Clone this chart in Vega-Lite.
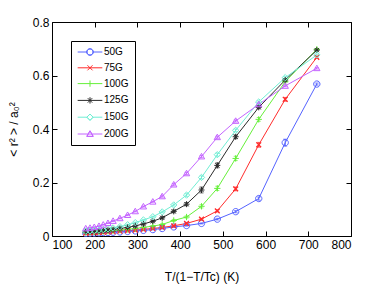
{
  "$schema": "https://vega.github.io/schema/vega-lite/v6.json",
  "width": 299,
  "height": 214,
  "autosize": "none",
  "padding": {"left": 52, "top": 22, "right": 37, "bottom": 56},
  "background": "white",
  "config": {
    "font": "Liberation Sans",
    "view": {"stroke": "black", "strokeWidth": 1},
    "axis": {
      "grid": false,
      "domain": false,
      "tickColor": "black",
      "tickSize": -5,
      "labelFontSize": 12,
      "labelColor": "black",
      "labelFont": "Liberation Sans",
      "titleFont": "Liberation Sans",
      "titleFontSize": 12,
      "titleFontWeight": "normal",
      "titleColor": "black"
    }
  },
  "data": {"values": [
    {"s":"50G","x":179,"y":0.010,"e":0.001},{"s":"50G","x":189,"y":0.011,"e":0.001},{"s":"50G","x":199,"y":0.011,"e":0.001},{"s":"50G","x":210,"y":0.012,"e":0.001},{"s":"50G","x":220,"y":0.013,"e":0.001},{"s":"50G","x":231,"y":0.013,"e":0.001},{"s":"50G","x":243,"y":0.014,"e":0.001},{"s":"50G","x":259,"y":0.015,"e":0.001},{"s":"50G","x":277,"y":0.017,"e":0.001},{"s":"50G","x":295,"y":0.019,"e":0.001},{"s":"50G","x":314,"y":0.021,"e":0.001},{"s":"50G","x":336,"y":0.024,"e":0.001},{"s":"50G","x":358,"y":0.028,"e":0.002},{"s":"50G","x":385,"y":0.034,"e":0.002},{"s":"50G","x":415,"y":0.039,"e":0.002},{"s":"50G","x":450,"y":0.047,"e":0.002},{"s":"50G","x":487,"y":0.063,"e":0.003},{"s":"50G","x":530,"y":0.091,"e":0.004},{"s":"50G","x":584,"y":0.140,"e":0.006},{"s":"50G","x":646,"y":0.349,"e":0.013},{"s":"50G","x":720,"y":0.568,"e":0.004},
    {"s":"75G","x":179,"y":0.011,"e":0.001},{"s":"75G","x":189,"y":0.012,"e":0.001},{"s":"75G","x":199,"y":0.013,"e":0.001},{"s":"75G","x":210,"y":0.013,"e":0.001},{"s":"75G","x":220,"y":0.014,"e":0.001},{"s":"75G","x":231,"y":0.015,"e":0.001},{"s":"75G","x":243,"y":0.016,"e":0.001},{"s":"75G","x":259,"y":0.018,"e":0.001},{"s":"75G","x":277,"y":0.020,"e":0.001},{"s":"75G","x":295,"y":0.022,"e":0.001},{"s":"75G","x":314,"y":0.025,"e":0.001},{"s":"75G","x":336,"y":0.028,"e":0.001},{"s":"75G","x":358,"y":0.032,"e":0.002},{"s":"75G","x":385,"y":0.038,"e":0.002},{"s":"75G","x":415,"y":0.047,"e":0.003},{"s":"75G","x":450,"y":0.063,"e":0.003},{"s":"75G","x":487,"y":0.094,"e":0.004},{"s":"75G","x":530,"y":0.176,"e":0.007},{"s":"75G","x":584,"y":0.341,"e":0.009},{"s":"75G","x":646,"y":0.511,"e":0.007},{"s":"75G","x":720,"y":0.668,"e":0.003},
    {"s":"100G","x":179,"y":0.013,"e":0.001},{"s":"100G","x":189,"y":0.014,"e":0.001},{"s":"100G","x":199,"y":0.015,"e":0.001},{"s":"100G","x":210,"y":0.016,"e":0.001},{"s":"100G","x":220,"y":0.017,"e":0.001},{"s":"100G","x":231,"y":0.018,"e":0.001},{"s":"100G","x":243,"y":0.020,"e":0.001},{"s":"100G","x":259,"y":0.022,"e":0.001},{"s":"100G","x":277,"y":0.025,"e":0.002},{"s":"100G","x":295,"y":0.028,"e":0.002},{"s":"100G","x":314,"y":0.032,"e":0.002},{"s":"100G","x":336,"y":0.037,"e":0.002},{"s":"100G","x":358,"y":0.043,"e":0.003},{"s":"100G","x":385,"y":0.058,"e":0.004},{"s":"100G","x":415,"y":0.071,"e":0.004},{"s":"100G","x":450,"y":0.111,"e":0.006},{"s":"100G","x":487,"y":0.178,"e":0.008},{"s":"100G","x":530,"y":0.290,"e":0.008},{"s":"100G","x":584,"y":0.436,"e":0.007},{"s":"100G","x":646,"y":0.577,"e":0.004},{"s":"100G","x":720,"y":0.698,"e":0.003},
    {"s":"125G","x":179,"y":0.015,"e":0.001},{"s":"125G","x":189,"y":0.016,"e":0.001},{"s":"125G","x":199,"y":0.017,"e":0.001},{"s":"125G","x":210,"y":0.018,"e":0.001},{"s":"125G","x":220,"y":0.020,"e":0.001},{"s":"125G","x":231,"y":0.022,"e":0.001},{"s":"125G","x":243,"y":0.024,"e":0.001},{"s":"125G","x":259,"y":0.028,"e":0.002},{"s":"125G","x":277,"y":0.032,"e":0.002},{"s":"125G","x":295,"y":0.038,"e":0.002},{"s":"125G","x":314,"y":0.045,"e":0.003},{"s":"125G","x":336,"y":0.055,"e":0.003},{"s":"125G","x":358,"y":0.068,"e":0.004},{"s":"125G","x":385,"y":0.092,"e":0.005},{"s":"125G","x":415,"y":0.119,"e":0.006},{"s":"125G","x":450,"y":0.172,"e":0.011},{"s":"125G","x":487,"y":0.264,"e":0.009},{"s":"125G","x":530,"y":0.371,"e":0.007},{"s":"125G","x":584,"y":0.481,"e":0.005},{"s":"125G","x":646,"y":0.583,"e":0.004},{"s":"125G","x":720,"y":0.695,"e":0.003},
    {"s":"150G","x":179,"y":0.018,"e":0.001},{"s":"150G","x":189,"y":0.019,"e":0.001},{"s":"150G","x":199,"y":0.020,"e":0.001},{"s":"150G","x":210,"y":0.022,"e":0.001},{"s":"150G","x":220,"y":0.024,"e":0.001},{"s":"150G","x":231,"y":0.027,"e":0.001},{"s":"150G","x":243,"y":0.030,"e":0.001},{"s":"150G","x":259,"y":0.035,"e":0.002},{"s":"150G","x":277,"y":0.042,"e":0.002},{"s":"150G","x":295,"y":0.050,"e":0.002},{"s":"150G","x":314,"y":0.060,"e":0.002},{"s":"150G","x":336,"y":0.072,"e":0.002},{"s":"150G","x":358,"y":0.090,"e":0.003},{"s":"150G","x":385,"y":0.116,"e":0.004},{"s":"150G","x":415,"y":0.153,"e":0.005},{"s":"150G","x":450,"y":0.219,"e":0.006},{"s":"150G","x":487,"y":0.304,"e":0.006},{"s":"150G","x":530,"y":0.395,"e":0.005},{"s":"150G","x":584,"y":0.501,"e":0.004},{"s":"150G","x":646,"y":0.592,"e":0.004},{"s":"150G","x":720,"y":0.677,"e":0.003},
    {"s":"200G","x":179,"y":0.028,"e":0.001},{"s":"200G","x":189,"y":0.030,"e":0.001},{"s":"200G","x":199,"y":0.033,"e":0.001},{"s":"200G","x":210,"y":0.037,"e":0.001},{"s":"200G","x":220,"y":0.042,"e":0.001},{"s":"200G","x":231,"y":0.048,"e":0.001},{"s":"200G","x":243,"y":0.056,"e":0.002},{"s":"200G","x":259,"y":0.066,"e":0.002},{"s":"200G","x":277,"y":0.078,"e":0.002},{"s":"200G","x":295,"y":0.092,"e":0.002},{"s":"200G","x":314,"y":0.110,"e":0.002},{"s":"200G","x":336,"y":0.128,"e":0.002},{"s":"200G","x":358,"y":0.148,"e":0.003},{"s":"200G","x":385,"y":0.192,"e":0.004},{"s":"200G","x":415,"y":0.234,"e":0.004},{"s":"200G","x":450,"y":0.297,"e":0.004},{"s":"200G","x":487,"y":0.369,"e":0.004},{"s":"200G","x":530,"y":0.430,"e":0.004},{"s":"200G","x":584,"y":0.492,"e":0.004},{"s":"200G","x":646,"y":0.561,"e":0.003},{"s":"200G","x":720,"y":0.627,"e":0.003}
  ]},
  "encoding": {
    "x": {"field": "x", "type": "quantitative", "scale": {"domain": [100, 800], "nice": false, "zero": false}, "axis": null},
    "y": {"field": "y", "type": "quantitative", "scale": {"domain": [0, 0.8], "nice": false}, "axis": null},
    "color": {"field": "s", "type": "nominal", "scale": {"domain": ["50G","75G","100G","125G","150G","200G"], "range": ["#5563ff","#ff2c2c","#66f03a","#2a2a2a","#70eed4","#c464ff"]}, "legend": null}
  },
  "resolve": {"axis": {"x": "independent", "y": "independent"}},
  "layer": [
    {
      "mark": {"type": "point", "filled": false, "opacity": 0, "size": 40, "strokeWidth": 1},
      "encoding": {
        "x": {"field": "x", "type": "quantitative", "scale": {"domain": [100, 800], "nice": false, "zero": false},
              "axis": {"orient": "top", "values": [100,200,300,400,500,600,700,800], "labels": false, "title": null}},
        "y": {"field": "y", "type": "quantitative", "scale": {"domain": [0, 0.8], "nice": false},
              "axis": {"orient": "right", "values": [0,0.2,0.4,0.6,0.8], "labels": false, "title": null}},
        "color": {"field": "s", "type": "nominal",
                  "legend": {"title": null, "orient": "none", "legendX": 19, "legendY": 19, "strokeColor": "black", "fillColor": "white", "padding": 6, "symbolOffset": 8, "labelOffset": 9, "labelFontSize": 10, "labelFont": "Liberation Sans", "labelColor": "black", "rowPadding": 4.8, "symbolSize": 40, "symbolStrokeWidth": 1, "symbolOpacity": 1}},
        "shape": {"field": "s", "type": "nominal",
                  "scale": {"domain": ["50G","75G","100G","125G","150G","200G"],
                            "range": ["M-3.9,0H-1M1,0H3.9M1,0A1,1,0,1,1,-1,0A1,1,0,1,1,1,0A1,1,0,1,0,-1,0A1,1,0,1,0,1,0",
                                      "M-3.9,0H3.9M-0.8,-0.8L0.8,0.8M-0.8,0.8L0.8,-0.8",
                                      "M-3.9,0H3.9M0,-1V1",
                                      "M-3.9,0H3.9M0,-1V1M-0.7,-0.7L0.7,0.7M-0.7,0.7L0.7,-0.7",
                                      "M-3.9,0H-1M1,0H3.9M0,-1L1,0L0,1L-1,0ZM0,-1L-1,0L0,1L1,0Z",
                                      "M-3.9,0H3.9M0,-1L1,0.75L-1,0.75ZM0,-1L-1,0.75L1,0.75Z"]},
                  "legend": {"title": null, "orient": "none", "legendX": 19, "legendY": 19, "strokeColor": "black", "fillColor": "white", "padding": 6, "symbolOffset": 8, "labelOffset": 9, "labelFontSize": 10, "labelFont": "Liberation Sans", "labelColor": "black", "rowPadding": 4.8, "symbolSize": 40, "symbolStrokeWidth": 1, "symbolOpacity": 1}}
      }
    },
    {
      "mark": {"type": "line", "strokeWidth": 1},
      "encoding": {
        "x": {"field": "x", "type": "quantitative", "scale": {"domain": [100, 800], "nice": false, "zero": false},
              "axis": {"orient": "bottom", "values": [100,200,300,400,500,600,700,800], "labelPadding": 8, "title": "T/(1−T/Tc) (K)", "titlePadding": 21}},
        "y": {"field": "y", "type": "quantitative", "scale": {"domain": [0, 0.8], "nice": false},
              "axis": {"orient": "left", "values": [0,0.2,0.4,0.6,0.8], "format": "~g", "labelPadding": 8, "title": "< r² > / a₀²", "titlePadding": 12}}
      }
    },
    {
      "mark": {"type": "errorbar", "ticks": {"size": 4}, "thickness": 1},
      "encoding": {"yError": {"field": "e"}}
    },
    {"transform": [{"filter": "datum.s === '50G'"}], "mark": {"type": "point", "shape": "M1,0A1,1,0,1,1,-1,0A1,1,0,1,1,1,0Z", "filled": false, "size": 40, "strokeWidth": 1, "opacity": 1}},
    {"transform": [{"filter": "datum.s === '75G'"}], "mark": {"type": "point", "shape": "M-0.8,-0.8L0.8,0.8M-0.8,0.8L0.8,-0.8", "filled": false, "size": 36, "strokeWidth": 1.3, "opacity": 1}},
    {"transform": [{"filter": "datum.s === '100G'"}], "mark": {"type": "point", "shape": "M-1,0H1M0,-1V1", "filled": false, "size": 40, "strokeWidth": 1, "opacity": 1}},
    {"transform": [{"filter": "datum.s === '125G'"}], "mark": {"type": "point", "shape": "M-1,0H1M0,-1V1M-0.7,-0.7L0.7,0.7M-0.7,0.7L0.7,-0.7", "filled": false, "size": 36, "strokeWidth": 1, "opacity": 1}},
    {"transform": [{"filter": "datum.s === '150G'"}], "mark": {"type": "point", "shape": "M0,-1L1,0L0,1L-1,0Z", "filled": false, "size": 40, "strokeWidth": 1, "opacity": 1}},
    {"transform": [{"filter": "datum.s === '200G'"}], "mark": {"type": "point", "shape": "M0,-1L1,0.75L-1,0.75Z", "filled": false, "size": 40, "strokeWidth": 1, "opacity": 1}}
  ]
}
